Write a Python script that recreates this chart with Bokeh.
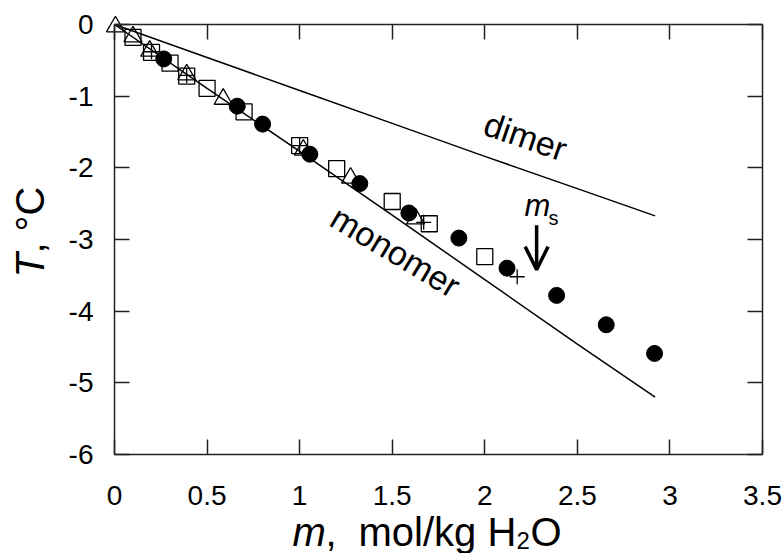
from bokeh.plotting import figure
from bokeh.models import (Range1d, LinearAxis, FixedTicker, CustomJSTickFormatter,
                          Label, Arrow, OpenHead)
from bokeh.embed import file_html
from bokeh.resources import INLINE

# ---- data ----
circ_m = [0.266, 0.663, 0.80, 1.055, 1.325, 1.59, 1.86, 2.12, 2.388, 2.656, 2.917]
circ_T = [-0.48, -1.14, -1.39, -1.81, -2.22, -2.63, -2.98, -3.40, -3.78, -4.19, -4.59]

sq_m = [0.10, 0.20, 0.30, 0.39, 0.50, 0.70, 1.00, 1.20, 1.50, 1.70, 2.00]
sq_T = [-0.18, -0.39, -0.54, -0.72, -0.89, -1.22, -1.69, -2.01, -2.47, -2.78, -3.24]

tri_m = [0.005, 0.10, 0.19, 0.39, 0.587, 1.02, 1.275, 1.626]
tri_T = [-0.03, -0.17, -0.37, -0.70, -1.04, -1.75, -2.14, -2.71]

plus_m = [0.20, 0.39, 0.80, 1.00, 1.67, 2.175]
plus_T = [-0.38, -0.71, -1.40, -1.69, -2.76, -3.52]

line_m = [0, 0.5, 1.0, 1.5, 2.0, 2.5, 2.92]
mono_T = [0, -0.89, -1.77, -2.66, -3.56, -4.46, -5.20]
dimer_T = [0, -0.46, -0.92, -1.38, -1.84, -2.29, -2.67]

ms_value = 2.28
ms_arrow_T = [-2.80, -3.42]

x_ticks = [0, 0.5, 1, 1.5, 2, 2.5, 3, 3.5]
y_ticks = [0, -1, -2, -3, -4, -5, -6]
x_lim = (0, 3.5)
y_lim = (-6, 0)

FONT = "Liberation Sans"
W, H = 784, 553
# axes box in pixels (left, right, top, bottom)
BL, BR, BT, BB = 114, 762, 24, 454

def dx(px):
    return x_lim[0] + (px - BL) * (x_lim[1] - x_lim[0]) / (BR - BL)

def dy(py):
    return y_lim[1] - (py - BT) * (y_lim[1] - y_lim[0]) / (BB - BT)

p = figure(width=W, height=H,
           x_range=Range1d(dx(0), dx(W)), y_range=Range1d(dy(H), dy(0)),
           output_backend="svg", toolbar_location=None, min_border=0,
           x_axis_location=None, y_axis_location=None)
p.xgrid.visible = False
p.ygrid.visible = False
p.outline_line_color = None
p.background_fill_color = "white"
p.border_fill_color = "white"

fmt = CustomJSTickFormatter(code="return String(Math.round(tick*100)/100);")
empty = CustomJSTickFormatter(code="return '';")

def make_axis(ticks, loc, bounds, labels):
    ax = LinearAxis(ticker=FixedTicker(ticks=ticks), fixed_location=loc, bounds=bounds)
    ax.axis_line_color = "#222222"
    ax.axis_line_width = 1.5
    ax.major_tick_line_color = "#222222"
    ax.major_tick_line_width = 1.5
    ax.major_tick_in = 15
    ax.major_tick_out = 0
    ax.minor_tick_line_color = None
    ax.major_label_text_font = FONT
    ax.major_label_text_font_size = "28px"
    ax.major_label_text_color = "black"
    ax.formatter = fmt if labels else empty
    return ax

bottom = make_axis(x_ticks, y_lim[0], x_lim, True)
bottom.major_label_standoff = 31
left = make_axis(y_ticks, x_lim[0], y_lim, True)
left.major_label_standoff = 21
top = make_axis(x_ticks, y_lim[1], x_lim, False)
right = make_axis(y_ticks, x_lim[1], y_lim, False)
p.add_layout(bottom, "below")
p.add_layout(left, "left")
p.add_layout(top, "above")
p.add_layout(right, "right")

# lines
p.line(line_m, mono_T, line_color="black", line_width=1.5)
p.line(line_m, dimer_T, line_color="black", line_width=1.5)

# markers
p.scatter(sq_m, sq_T, marker="square", size=16, fill_color=None, line_color="black", line_width=1.3)
p.scatter(tri_m, tri_T, marker="triangle", size=18, fill_color=None, line_color="black", line_width=1.3)
p.scatter(plus_m, plus_T, marker="cross", size=15, line_color="black", line_width=1.3)
p.scatter(circ_m, circ_T, marker="circle", size=16, fill_color="black", line_color="black")

# line labels
p.add_layout(Label(x=dx(525), y=dy(136), text="dimer", angle=-19, angle_units="deg",
                   text_align="center", text_baseline="middle", text_font=FONT,
                   text_font_size="34px", text_color="black"))
p.add_layout(Label(x=dx(395), y=dy(251), text="monomer", angle=-31, angle_units="deg",
                   text_align="center", text_baseline="middle", text_font=FONT,
                   text_font_size="34px", text_color="black"))

# m_s annotation
p.add_layout(Label(x=dx(524), y=dy(205), text="m", text_font=FONT, text_font_style="italic",
                   text_font_size="31px", text_color="black", text_baseline="alphabetic"))
p.add_layout(Label(x=dx(548), y=dy(217), text="s", text_font=FONT,
                   text_font_size="20px", text_color="black", text_baseline="alphabetic"))
p.add_layout(Arrow(end=OpenHead(size=23, line_width=3.5, line_color="black"),
                   x_start=ms_value, y_start=ms_arrow_T[0], x_end=ms_value, y_end=ms_arrow_T[1],
                   line_width=3.5, line_color="black"))

# x axis title: m,  mol/kg H2O
TS = "40px"
XB = 531
p.add_layout(Label(x=dx(292), y=dy(XB), text="m", text_font=FONT, text_font_style="italic",
                   text_font_size=TS, text_color="black", text_baseline="alphabetic"))
p.add_layout(Label(x=dx(325), y=dy(XB), text=",", text_font=FONT,
                   text_font_size=TS, text_color="black", text_baseline="alphabetic"))
p.add_layout(Label(x=dx(358), y=dy(XB), text="mol/kg H", text_font=FONT,
                   text_font_size=TS, text_color="black", text_baseline="alphabetic"))
p.add_layout(Label(x=dx(516), y=dy(XB + 9), text="2", text_font=FONT,
                   text_font_size="24px", text_color="black", text_baseline="alphabetic"))
p.add_layout(Label(x=dx(530), y=dy(XB), text="O", text_font=FONT,
                   text_font_size=TS, text_color="black", text_baseline="alphabetic"))

# y axis title: T, °C (rotated)
YB = 29
p.add_layout(Label(x=dx(YB), y=dy(277), text="T", angle=90, angle_units="deg",
                   text_font=FONT, text_font_style="italic", text_font_size=TS,
                   text_color="black", text_baseline="alphabetic"))
p.add_layout(Label(x=dx(YB), y=dy(253), text=",", angle=90, angle_units="deg",
                   text_font=FONT, text_font_size=TS,
                   text_color="black", text_baseline="alphabetic"))
p.add_layout(Label(x=dx(YB), y=dy(231), text="°C", angle=90, angle_units="deg",
                   text_font=FONT, text_font_size=TS,
                   text_color="black", text_baseline="alphabetic"))

open("out.html", "w").write(file_html(p, INLINE))
